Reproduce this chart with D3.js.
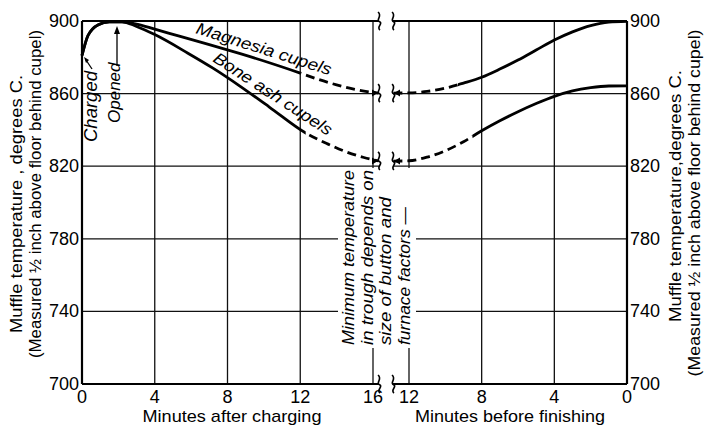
<!DOCTYPE html>
<html>
<head>
<meta charset="utf-8">
<script src="https://cdn.jsdelivr.net/npm/d3@7"></script>
<style>
  body { margin: 0; background: #fff; }
  svg { display: block; font-family: 'Liberation Sans', Arial, sans-serif; }
  .it { font-style: italic; }
</style>
</head>
<body>
<svg id="chart" width="705" height="426"></svg>
<script>
// minutes after charging / before finishing, muffle temperature (deg C)
const leftTicks = [0, 4, 8, 12, 16]
const rightTicks = [12, 8, 4, 0]
const tempTicks = [700, 740, 780, 820, 860, 900]

// left panel: minutes after charging
const magnesiaA = [[0, 881], [0.33, 892], [0.9, 898], [1.5, 899.5], [2.2, 899.6], [3, 898.3], [4, 895.5], [5.4, 891.5], [7, 887], [8.7, 882], [10.3, 877], [12, 871.3], [13, 867.8], [14, 864.8], [15, 862.3], [16.3, 860.3]]
const boneA = [[0, 881], [0.33, 892], [0.9, 898], [1.5, 899.5], [2.2, 899.6], [3, 897], [4, 892.5], [5.8, 882.4], [7.2, 874], [8.7, 864], [10.3, 852.6], [12.3, 838.3], [13.5, 832.3], [14.5, 828], [15.5, 824.8], [16.3, 822.9]]
const magnesiaDashFromA = 12
const boneDashFromA = 12.3

// right panel: minutes before finishing
const magnesiaB = [[12.86, 860.3], [12, 860.4], [11, 861.2], [10, 863], [9, 865.8], [8, 869], [7, 873.5], [6, 878.5], [5, 884], [4, 889.5], [3, 894], [2, 897.5], [1, 899.4], [0, 899.8]]
const boneB = [[12.86, 822.8], [12, 823], [11, 825], [10, 828.5], [9, 833.5], [8, 839.5], [7, 845], [6, 850], [5, 854.5], [4, 858.5], [3, 861.5], [2, 863.3], [1, 864.2], [0, 864.3]]
const magnesiaSolidFromB = 9.3
const boneSolidFromB = 8.5

const svg = d3.select('#chart')

const xA = d3.scaleLinear().domain([0, 16]).range([82, 373])
const xB = d3.scaleLinear().domain([12, 0]).range([409, 627])
const y = d3.scaleLinear().domain([700, 900]).range([384, 21])

const breakL = 379, breakR = 393
const gapX = [338, 416], gapY = [168, 348]

svg.append('rect').attr('width', 705).attr('height', 426).attr('fill', '#fff')

const grid = svg.append('g').attr('stroke', '#111').attr('stroke-width', 1.3)

// horizontal grid lines
tempTicks.filter(t => t > 700 && t < 900).forEach(t => {
	const yy = y(t)
	const inGap = yy > gapY[0] && yy < gapY[1]
	if (inGap) {
		grid.append('line').attr('x1', xA(0)).attr('x2', gapX[0]).attr('y1', yy).attr('y2', yy)
		grid.append('line').attr('x1', gapX[1]).attr('x2', xB(0)).attr('y1', yy).attr('y2', yy)
	} else {
		grid.append('line').attr('x1', xA(0)).attr('x2', breakL).attr('y1', yy).attr('y2', yy)
		grid.append('line').attr('x1', breakR).attr('x2', xB(0)).attr('y1', yy).attr('y2', yy)
	}
})

// vertical grid lines
const vLine = (xx, broken) => {
	if (broken) {
		grid.append('line').attr('x1', xx).attr('x2', xx).attr('y1', y(900)).attr('y2', gapY[0])
		grid.append('line').attr('x1', xx).attr('x2', xx).attr('y1', gapY[1]).attr('y2', y(700))
	} else {
		grid.append('line').attr('x1', xx).attr('x2', xx).attr('y1', y(900)).attr('y2', y(700))
	}
}
leftTicks.filter(t => t > 0).forEach(t => vLine(xA(t), t == 16))
rightTicks.filter(t => t > 0).forEach(t => vLine(xB(t), t == 12))

// frame
const frame = svg.append('g').attr('stroke', '#000').attr('stroke-width', 2.2)
frame.append('line').attr('x1', xA(0)).attr('x2', xA(0)).attr('y1', y(900)).attr('y2', y(700))
frame.append('line').attr('x1', xB(0)).attr('x2', xB(0)).attr('y1', y(900)).attr('y2', y(700))
;[900, 700].forEach(t => {
	frame.append('line').attr('x1', xA(0)).attr('x2', breakL).attr('y1', y(t)).attr('y2', y(t))
	frame.append('line').attr('x1', breakR).attr('x2', xB(0)).attr('y1', y(t)).attr('y2', y(t))
})

// break marks
const breakMark = (xx, yy) => {
	svg.append('path')
		.attr('d', `M${xx - 1},${yy - 9} C${xx + 4},${yy - 5} ${xx - 4},${yy - 1} ${xx + 1},${yy + 1} C${xx + 4},${yy + 3} ${xx - 3},${yy + 6} ${xx + 1},${yy + 9}`)
		.attr('fill', 'none').attr('stroke', '#000').attr('stroke-width', 1.6)
}
;[900, 860.3, 822.9, 700].forEach(t => { breakMark(breakL, y(t)); breakMark(breakR, y(t)) })

const arrowHead = (xx, yy, dir) => {
	svg.append('path')
		.attr('d', `M${xx},${yy} L${xx - dir * 6},${yy - 3.5} L${xx - dir * 6},${yy + 3.5} Z`)
		.attr('fill', '#000')
}

// curves: one smooth path per series, split into solid / dashed parts by clipping
const defs = svg.append('defs')
const clip = (id, x0, x1) => {
	defs.append('clipPath').attr('id', id).append('rect')
		.attr('x', x0).attr('y', 0).attr('width', x1 - x0).attr('height', 426)
	return `url(#${id})`
}

const lineA = d3.line().x(d => xA(d[0])).y(d => y(d[1])).curve(d3.curveMonotoneX)
const lineB = d3.line().x(d => xB(d[0])).y(d => y(d[1])).curve(d3.curveMonotoneX)

const curves = svg.append('g').attr('fill', 'none').attr('stroke', '#000').attr('stroke-width', 2.8)
const drawSeries = (path, splitX, solidLeft, id) => {
	curves.append('path').attr('d', path)
		.attr('clip-path', solidLeft ? clip(id + 's', 0, splitX) : clip(id + 's', splitX, 705))
	curves.append('path').attr('d', path).attr('stroke-dasharray', '9,5')
		.attr('clip-path', solidLeft ? clip(id + 'd', splitX, 705) : clip(id + 'd', 0, splitX))
}
drawSeries(lineA(magnesiaA), xA(magnesiaDashFromA), true, 'ma')
drawSeries(lineA(boneA), xA(boneDashFromA), true, 'ba')
drawSeries(lineB(magnesiaB), xB(magnesiaSolidFromB), false, 'mb')
drawSeries(lineB(boneB), xB(boneSolidFromB), false, 'bb')

arrowHead(breakL - 1, y(860.3), 1)
arrowHead(breakL - 1, y(822.9), 1)
arrowHead(breakR + 1, y(860.3), -1)
arrowHead(breakR + 1, y(822.9), -1)

// tick labels
const tickFont = 18
leftTicks.forEach(t => {
	svg.append('text').attr('x', xA(t)).attr('y', 403).attr('text-anchor', 'middle')
		.attr('font-size', tickFont).text(t)
})
rightTicks.forEach(t => {
	svg.append('text').attr('x', xB(t)).attr('y', 403).attr('text-anchor', 'middle')
		.attr('font-size', tickFont).text(t)
})
tempTicks.forEach(t => {
	svg.append('text').attr('x', xA(0) - 3).attr('y', y(t) + 6).attr('text-anchor', 'end')
		.attr('font-size', tickFont).text(t)
	svg.append('text').attr('x', xB(0) + 3).attr('y', y(t) + 6).attr('text-anchor', 'start')
		.attr('font-size', tickFont).text(t)
})

// stretched text helper
const label = (str, transform, size, len, anchor, italic) => {
	const t = svg.append('text').attr('class', italic ? 'it' : null)
		.attr('transform', transform).attr('text-anchor', anchor || 'start')
		.attr('font-size', size).text(str)
	if (len) t.attr('textLength', len).attr('lengthAdjust', 'spacingAndGlyphs')
}

// axis titles
label('Minutes after charging', 'translate(232,422)', 17, 179, 'middle')
label('Minutes before finishing', 'translate(510,422)', 17, 190, 'middle')

label('Muffle temperature , degrees C.', 'translate(22,204) rotate(-90)', 17, 258, 'middle')
label('(Measured ½ inch above floor behind cupel)', 'translate(41,194) rotate(-90)', 17, 328, 'middle')
label('Muffle temperature,degrees C.', 'translate(681,196) rotate(-90)', 17, 252, 'middle')
label('(Measured ½ inch above floor behind cupel)', 'translate(700,203) rotate(-90)', 17, 347, 'middle')

// annotations
label('Magnesia cupels', 'translate(195,33) rotate(17.5)', 16.5, 141, 'start', true)
label('Bone ash cupels', 'translate(212,61) rotate(33)', 16.5, 138, 'start', true)

label('Charged', 'translate(97,142) rotate(-90)', 18.5, null, 'start', true)
svg.append('line').attr('x1', 92).attr('y1', 69).attr('x2', 86).attr('y2', 60)
	.attr('stroke', '#000').attr('stroke-width', 1.3)
svg.append('path').attr('d', 'M84,57 L89,60 L86,63 Z').attr('fill', '#000')

label('Opened', 'translate(120,123) rotate(-90)', 17, null, 'start', true)
svg.append('line').attr('x1', 117).attr('y1', 66).attr('x2', 117).attr('y2', 30)
	.attr('stroke', '#000').attr('stroke-width', 1.3)
svg.append('path').attr('d', 'M117,26 L114,34 L120,34 Z').attr('fill', '#000')

const note = ['Minimum temperature', 'in trough depends on', 'size of button and', 'furnace factors —']
const noteLen = [175, 175, 148, 138]
note.forEach((s, i) => {
	label(s, `translate(${354 + i * 18.7},345) rotate(-90)`, 16.5, noteLen[i], 'start', true)
})
</script>
</body>
</html>
